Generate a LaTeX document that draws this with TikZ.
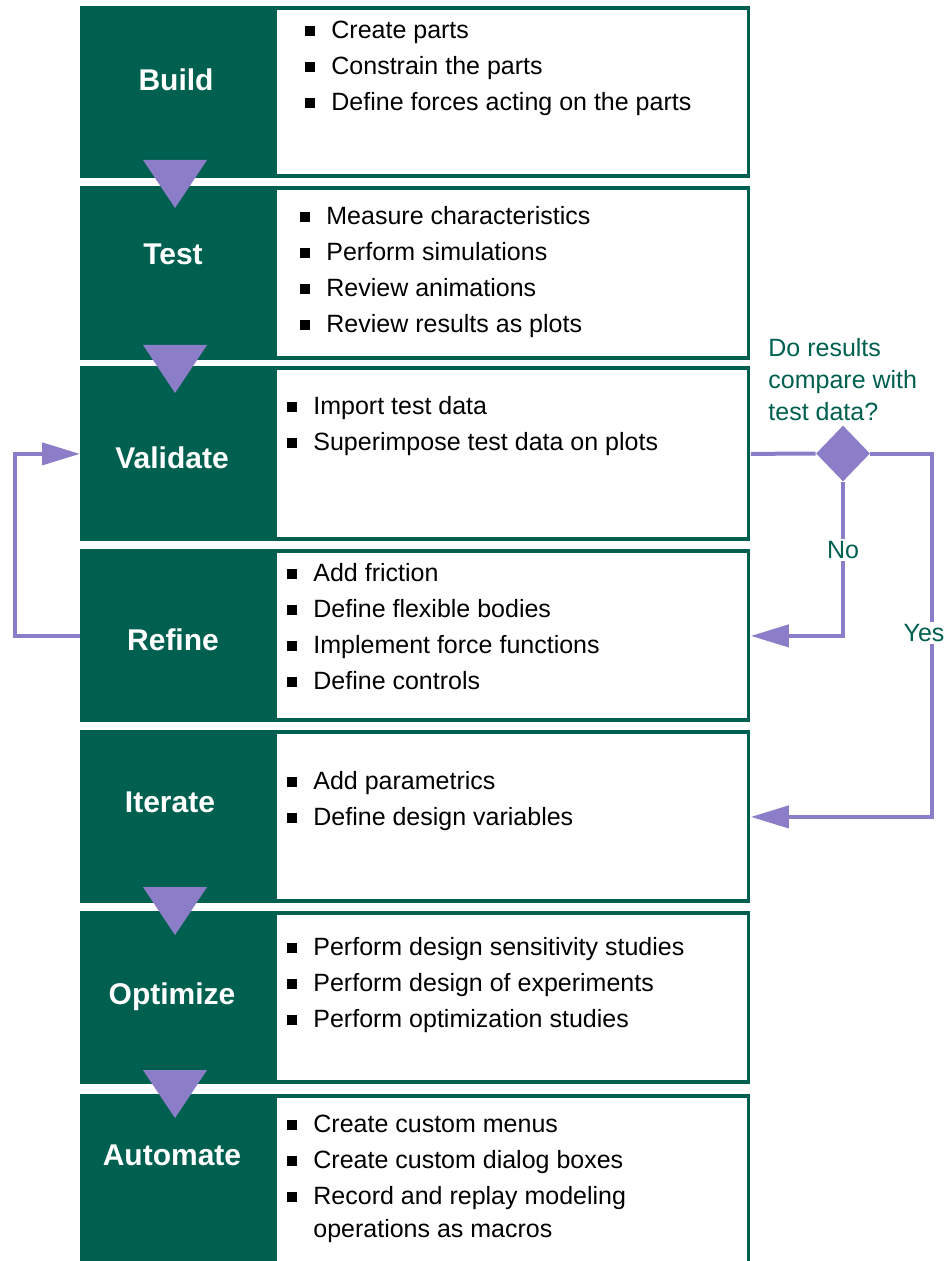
\documentclass[tikz,border=0pt]{standalone}
\usepackage{fontspec}
\setmainfont{Liberation Sans}
\usetikzlibrary{arrows.meta}
\usetikzlibrary{shapes.geometric}
\definecolor{dkgreen}{RGB}{0,96,80}
\definecolor{lilac}{RGB}{140,125,200}
\newcommand{\itm}[1]{\makebox[13pt][l]{\rule[1.5pt]{4.8pt}{4.8pt}}#1}

\begin{document}
\begin{tikzpicture}[x=0.5pt,y=-0.5pt,
	stage/.style={fill=dkgreen, minimum width=335pt, inner sep=0pt, anchor=north west},
	panel/.style={fill=white, minimum width=235pt, inner sep=0pt, anchor=north west},
	stagelbl/.style={text=white, font=\bfseries\fontsize{15}{18}\selectfont},
	items/.style={anchor=north west, inner sep=0pt, align=left, font=\fontsize{12.5}{18}\selectfont},
	note/.style={text=dkgreen, inner sep=1pt, font=\fontsize{12.5}{16}\selectfont},
	link/.style={draw=lilac, line width=2pt, -{Triangle[length=19pt,width=11pt]}},
	flow/.style={fill=lilac}]
	\fill[white] (0,0) rectangle (946,1261);
	\useasboundingbox (0,0) rectangle (946,1261);
	% stages
	\node[stage, minimum height=86pt] (build) at (80,6) {};
	\node[panel, minimum height=82pt] (buildbox) at (277,10) {};
	\node[stage, minimum height=87pt] (test) at (80,186) {};
	\node[panel, minimum height=83pt] (testbox) at (277,190) {};
	\node[stage, minimum height=87.5pt] (validate) at (80,366) {};
	\node[panel, minimum height=83.5pt] (validatebox) at (277,370) {};
	\node[stage, minimum height=86.5pt] (refine) at (80,549) {};
	\node[panel, minimum height=82.5pt] (refinebox) at (277,553) {};
	\node[stage, minimum height=86.5pt] (iterate) at (80,730) {};
	\node[panel, minimum height=82.5pt] (iteratebox) at (277,734) {};
	\node[stage, minimum height=86.5pt] (optimize) at (80,911) {};
	\node[panel, minimum height=82.5pt] (optimizebox) at (277,915) {};
	\node[stage, minimum height=90pt] (automate) at (80,1094) {};
	\node[panel, minimum height=90pt] (automatebox) at (277,1098) {};
	% labels
	\node[stagelbl] (buildlbl) at (176,80) {Build};
	\node[stagelbl] (testlbl) at (173,254) {Test};
	\node[stagelbl] (validatelbl) at (172,458) {Validate};
	\node[stagelbl] (refinelbl) at (173,640) {Refine};
	\node[stagelbl] (iteratelbl) at (170,802) {Iterate};
	\node[stagelbl] (optimizelbl) at (172,997) {Optimize};
	\node[stagelbl] (automatelbl) at (172,1155) {Automate};
	% bullet lists
	\node[items] (builditems) at (305,21) {\itm{Create parts}\\ \itm{Constrain the parts}\\ \itm{Define forces acting on the parts}};
	\node[items] (testitems) at (300,206) {\itm{Measure characteristics}\\ \itm{Perform simulations}\\ \itm{Review animations}\\ \itm{Review results as plots}};
	\node[items] (validateitems) at (287,396) {\itm{Import test data}\\ \itm{Superimpose test data on plots}};
	\node[items] (refineitems) at (287,563) {\itm{Add friction}\\ \itm{Define flexible bodies}\\ \itm{Implement force functions}\\ \itm{Define controls}};
	\node[items] (iterateitems) at (287,771) {\itm{Add parametrics}\\ \itm{Define design variables}};
	\node[items] (optimizeitems) at (287,937) {\itm{Perform design sensitivity studies}\\ \itm{Perform design of experiments}\\ \itm{Perform optimization studies}};
	\node[items] (automateitems) at (287,1115) {\itm{Create custom menus}\\ \itm{Create custom dialog boxes}\\ \itm{Record and replay modeling}\\[-1.5pt] \hspace*{13pt}operations as macros};
	% flow triangles
	\fill[flow] (143,160) -- (207,160) -- (175,208) -- cycle;
	\fill[flow] (143,345) -- (207,345) -- (175,393) -- cycle;
	\fill[flow] (143,887) -- (207,887) -- (175,935) -- cycle;
	\fill[flow] (143,1070) -- (207,1070) -- (175,1118) -- cycle;
	% decision
	\node[note, align=left, anchor=north west, inner sep=0pt] (question) at (768,338) {Do results\\ compare with\\ test data?};
	\node[diamond, fill=lilac, minimum width=27pt, minimum height=28pt, inner sep=0pt] (dec) at (843,453.5) {};
	\draw[draw=lilac, line width=2pt] (validate.east) -- (dec.west);
	\draw[link] (dec.south) |- (refine.east);
	\draw[link] (dec.east) -- ++(62,0) |- (iterate.east);
	\draw[link] (refine.west) -- ++(-65,0) |- (validate.west);
	\node[note, fill=white] (no) at (843,550) {No};
	\node[note, fill=white] (yes) at (924,633) {Yes};
\end{tikzpicture}
\end{document}
